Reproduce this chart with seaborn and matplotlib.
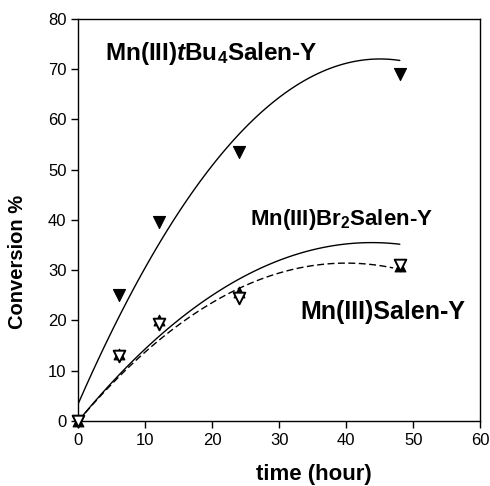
import numpy as np
import pandas as pd
import matplotlib
matplotlib.use("Agg")
import matplotlib.pyplot as plt
import seaborn as sns

# Data
time_h = [0, 6, 12, 24, 48]
tbu4_conv = [0, 25, 39.5, 53.5, 69]
br2_conv = [0, 13.3, 20.0, 25.6, 30.8]
salen_conv = [0, 13.0, 19.2, 24.5, 31.0]

# Quadratic regression coefficients (c2, c1, c0)
tbu4_fit = [-0.0338, 3.044, 3.5]
br2_fit = [-0.01849, 1.62, 0.0]
salen_fit = [-0.019625, 1.57, 0.0]
fit_end = [48, 48, 47]

x_ticks = [0, 10, 20, 30, 40, 50, 60]
y_ticks = [0, 10, 20, 30, 40, 50, 60, 70, 80]

sns.set_theme(style="ticks")
plt.rcParams['font.family'] = ['Liberation Sans', 'DejaVu Sans']
plt.rcParams['text.color'] = 'black'
plt.rcParams['axes.labelcolor'] = 'black'
plt.rcParams['xtick.color'] = 'black'
plt.rcParams['ytick.color'] = 'black'
plt.rcParams['mathtext.fontset'] = 'custom'
plt.rcParams['mathtext.rm'] = 'Liberation Sans:bold'
plt.rcParams['mathtext.bf'] = 'Liberation Sans:bold'
plt.rcParams['mathtext.it'] = 'Liberation Sans:bold:italic'

fig = plt.figure(figsize=(4.9, 4.86), dpi=100)
ax = fig.add_axes([0.160, 0.134, 0.820, 0.827])

def curve(coef, xmax):
    xs = np.linspace(0, xmax, 120)
    return pd.DataFrame({"t": xs, "c": np.polyval(coef, xs)})

sns.lineplot(data=curve(tbu4_fit, fit_end[0]), x="t", y="c", ax=ax, color="black", lw=1.0)
sns.lineplot(data=curve(br2_fit, fit_end[1]), x="t", y="c", ax=ax, color="black", lw=1.0)
sns.lineplot(data=curve(salen_fit, fit_end[2]), x="t", y="c", ax=ax, color="black", lw=1.0,
             linestyle=(0, (5, 2.5)))

df = pd.DataFrame({"t": time_h, "a": tbu4_conv, "b": br2_conv, "s": salen_conv})
sns.scatterplot(data=df, x="t", y="a", ax=ax, marker="v", s=75, color="black",
                edgecolor="black", linewidth=0.8, zorder=3, clip_on=False)
sns.scatterplot(data=df, x="t", y="b", ax=ax, marker="^", s=60, color="black",
                edgecolor="black", linewidth=0.8, zorder=3, clip_on=False)
sns.scatterplot(data=df, x="t", y="s", ax=ax, marker="v", s=70, color="white",
                edgecolor="black", linewidth=1.4, zorder=4, clip_on=False)

ax.set_xlim(0, 60)
ax.set_ylim(0, 80)
ax.set_xticks(x_ticks)
ax.set_yticks(y_ticks)
ax.tick_params(direction="out", length=5, width=1, labelsize=12, colors="black")
for sp in ax.spines.values():
    sp.set_linewidth(1.0)
    sp.set_color("black")

ax.set_xlabel("time (hour)", fontsize=16, fontweight="bold")
ax.set_ylabel("Conversion %", fontsize=14.5, fontweight="bold")
ax.xaxis.set_label_coords(0.587, -0.108)
ax.yaxis.set_label_coords(-0.128, 0.395)

ax.text(4.0, 71.8, r"Mn(III)$\mathit{t}$Bu$_\mathrm{4}$Salen-Y", fontsize=17.5, fontweight="bold")
ax.text(25.6, 39.0, r"Mn(III)Br$_\mathrm{2}$Salen-Y", fontsize=16, fontweight="bold")
ax.text(33.1, 20.2, "Mn(III)Salen-Y", fontsize=18, fontweight="bold")

fig.savefig("out.png", dpi=100)
